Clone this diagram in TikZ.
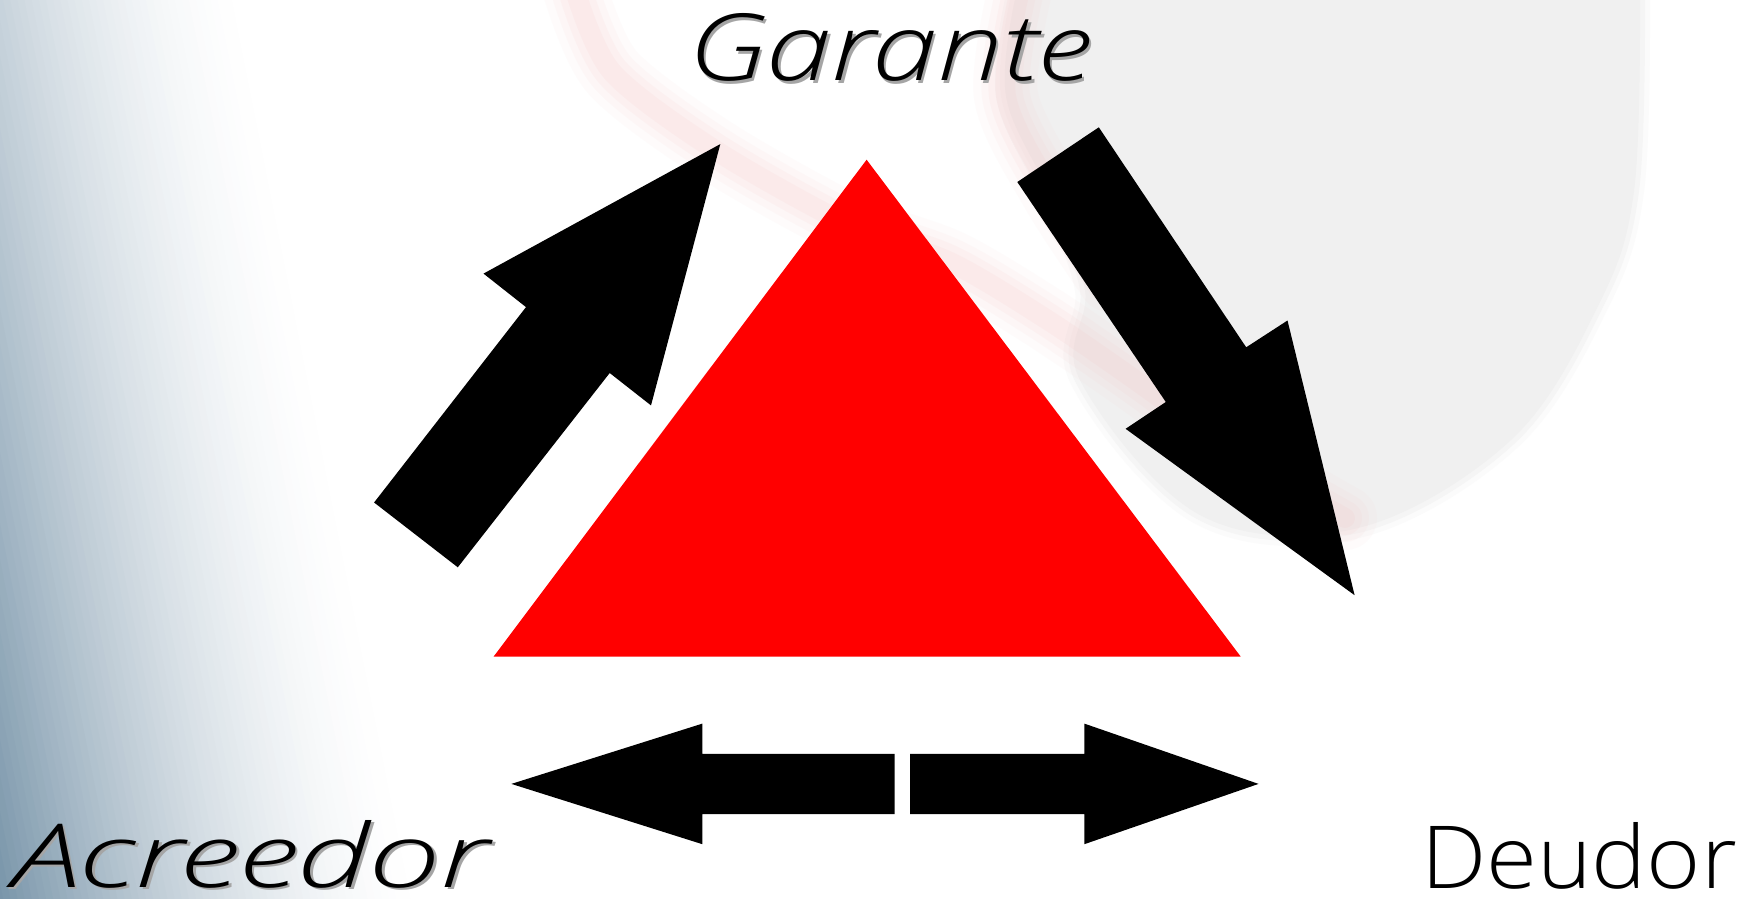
\documentclass[tikz,border=0pt]{standalone}
\usepackage{fontspec}
\usepackage{graphicx}
\newfontfamily\lightfont{Open Sans Light}[ItalicFont={Open Sans Light Italic}]
\definecolor{bgblue}{RGB}{112,142,164}
\definecolor{diskgray}{RGB}{240,240,240}
\definecolor{swooshpink}{RGB}{246,190,190}
\definecolor{shadowgray}{RGB}{165,165,165}
\definecolor{trired}{RGB}{255,0,0}
\tikzset{
  blackshape/.style={fill=black, draw=none},
  label text/.style={inner sep=0pt, outer sep=0pt, anchor=base west},
  soft line/.style={swooshpink, line cap=round, line join=round}
}
\begin{document}
\begin{tikzpicture}[x=1pt, y=-1pt]
\useasboundingbox (0,0) rectangle (1751,899);
\fill[white] (0,0) rectangle (1751,899);
% ---- background ----
\begin{scope}
\clip (0,0) rectangle (1751,899);
% light gray disc region (soft edge)
\foreach \w/\o in {20/0.25, 10/0.5} {
  \draw[diskgray, line width=\w, opacity=\o] plot[smooth, tension=0.6] coordinates {(1016,-5) (1006,96) (1050,195) (1085,290) (1080,380) (1200,515) (1358,528) (1511,440) (1598,306) (1634,191) (1640,-5)};
}
\fill[diskgray] plot[smooth, tension=0.6] coordinates {(1016,-5) (1006,96) (1050,195) (1085,290) (1080,380) (1200,515) (1358,528) (1511,440) (1598,306) (1634,191) (1640,-5)} -- cycle;
% faint pink swooshes
\foreach \w/\o in {64/0.05, 48/0.07, 34/0.09, 20/0.11} {
  \draw[soft line, line width=\w, opacity=\o] plot[smooth] coordinates {(575,-10) (612,72) (715,150) (849,225) (950,262) (1043,317) (1131,377) (1250,462) (1345,518)};
  \draw[soft line, line width=\w, opacity=\o] plot[smooth] coordinates {(1020,-10) (1006,96) (1052,191) (1110,280)};
}
% blue-gray gradient on the left
\foreach \i in {0,...,64} {
  \pgfmathsetmacro{\d}{\i*7}
  \pgfmathsetmacro{\p}{100*(min(1,\d/430))^1.6}
  \fill[bgblue!\p!white] (-20,-20) -- ({245.7-20*0.19867-\d*1.0198},-20) -- ({245.7+920*0.19867-\d*1.0198},920) -- (-20,920) -- cycle;
}
\end{scope}
% ---- triangle ----
\fill[trired] (866.6,159.7) -- (1240.7,656.6) -- (493.6,656.6) -- cycle;
% ---- arrow Acreedor -> Garante ----
\fill[blackshape] (374.1,502.5) -- (526.0,307.1) -- (483.5,273.6) -- (720.3,144.1) -- (651.0,405.4) -- (609.7,373.0) -- (457.8,567.3) -- cycle;
% ---- arrow Garante -> Deudor ----
\fill[blackshape] (1098.8,127.3) -- (1246.2,347.3) -- (1287.5,320.5) -- (1354.6,595.2) -- (1125.6,428.8) -- (1165.8,402.0) -- (1017.3,182.0) -- cycle;
% ---- bottom double arrow ----
\fill[blackshape] (511.4,783.9) -- (702.4,723.6) -- (702.4,753.8) -- (894.5,753.8) -- (894.5,814.1) -- (702.4,814.1) -- (702.4,844.2) -- cycle;
\fill[blackshape] (1258.5,783.9) -- (1084.3,723.6) -- (1084.3,753.8) -- (910.1,753.8) -- (910.1,814.1) -- (1084.3,814.1) -- (1084.3,844.2) -- cycle;
% ---- labels ----
\node[label text, text=shadowgray] (garanteshadow) at (690.5,83) {\resizebox{403pt}{67pt}{\lightfont\itshape Garante}};
\node[label text] (garante) at (688,80.5) {\resizebox{403pt}{67pt}{\lightfont\itshape Garante}};
\node[label text, text=shadowgray] (acreedorshadow) at (15.5,889.5) {\resizebox{475pt}{67pt}{\lightfont\itshape Acreedor}};
\node[label text] (acreedor) at (13,887) {\resizebox{475pt}{67pt}{\lightfont\itshape Acreedor}};
\node[label text] (deudor) at (1421,888) {\resizebox{316pt}{66pt}{\lightfont Deudor}};
\end{tikzpicture}
\end{document}
